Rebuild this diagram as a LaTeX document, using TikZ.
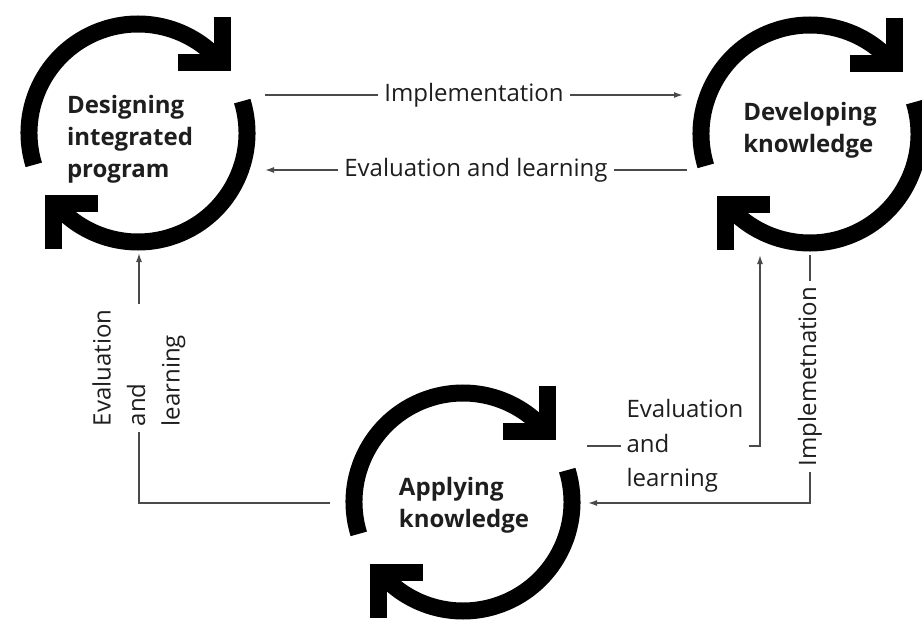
\documentclass[tikz,border=0pt]{standalone}
\usepackage{fontspec}
\setmainfont{Open Sans}
\usetikzlibrary{arrows.meta}
\definecolor{ink}{HTML}{1E1E1E}
\definecolor{wire}{HTML}{4A4A4A}
\tikzset{
  cyc/.pic={
    \draw[line width=17pt] (197:109) arc[start angle=197,end angle=40,radius=109];
    \draw[line width=17pt] (17:109) arc[start angle=17,end angle=-140,radius=109];
    \draw[line width=17pt] (40:110) ++(-44,0) -- ++(44,0) -- ++(0,45);
    \draw[line width=17pt] (220:110) ++(44,0) -- ++(-44,0) -- ++(0,-45);
  }
}
\begin{document}
\begin{tikzpicture}[x=1pt,y=1pt,>={Latex[length=9pt,width=6pt]}]
  \useasboundingbox (0,0) rectangle (922,-623);

  % the three cycles
  \pic at (138,-133) {cyc};
  \pic at (810,-134) {cyc};
  \pic at (463,-502) {cyc};

  \begin{scope}[every node/.style={text=ink,align=left,font=\fontsize{24}{32}\selectfont\bfseries}]
    \node (design)  at (130,-139) {Designing\\integrated\\program};
    \node (develop) at (810,-130) {Developing\\knowledge};
    \node (apply)   at (464,-505) {Applying\\knowledge};
  \end{scope}

  \coordinate (designE1)  at (265,-95);
  \coordinate (designE2)  at (265,-170);
  \coordinate (designS)   at (139,-253);
  \coordinate (developW1) at (683,-95);
  \coordinate (developW2) at (687,-170);
  \coordinate (developS1) at (760,-255);
  \coordinate (developS2) at (810,-255);
  \coordinate (applyW)    at (330,-503);
  \coordinate (applyE1)   at (587,-446);
  \coordinate (applyE2)   at (588,-503);

  \begin{scope}[every node/.style={fill=white,text=ink,inner xsep=6pt,font=\fontsize{24}{34.5}\selectfont},
                every edge/.style={draw=wire,line width=1.5pt}]
    \path (designE1)  edge[->] node {Implementation} (developW1);
    \path (developW2) edge[->] node {Evaluation and learning} (designE2);
    \draw[draw=wire,line width=1.5pt,->] (applyW) -| node[pos=.77,rotate=90,align=left] {Evaluation\\and\\learning} (designS);
    \draw[draw=wire,line width=1.5pt,->] (developS2) |- node[pos=.245,rotate=90] {Implemetnation} (applyE2);
    \draw[draw=wire,line width=1.5pt,->] (applyE1) -| node[pos=.283,align=left] {Evaluation\\and\\learning} (developS1);
  \end{scope}

\end{tikzpicture}
\end{document}
